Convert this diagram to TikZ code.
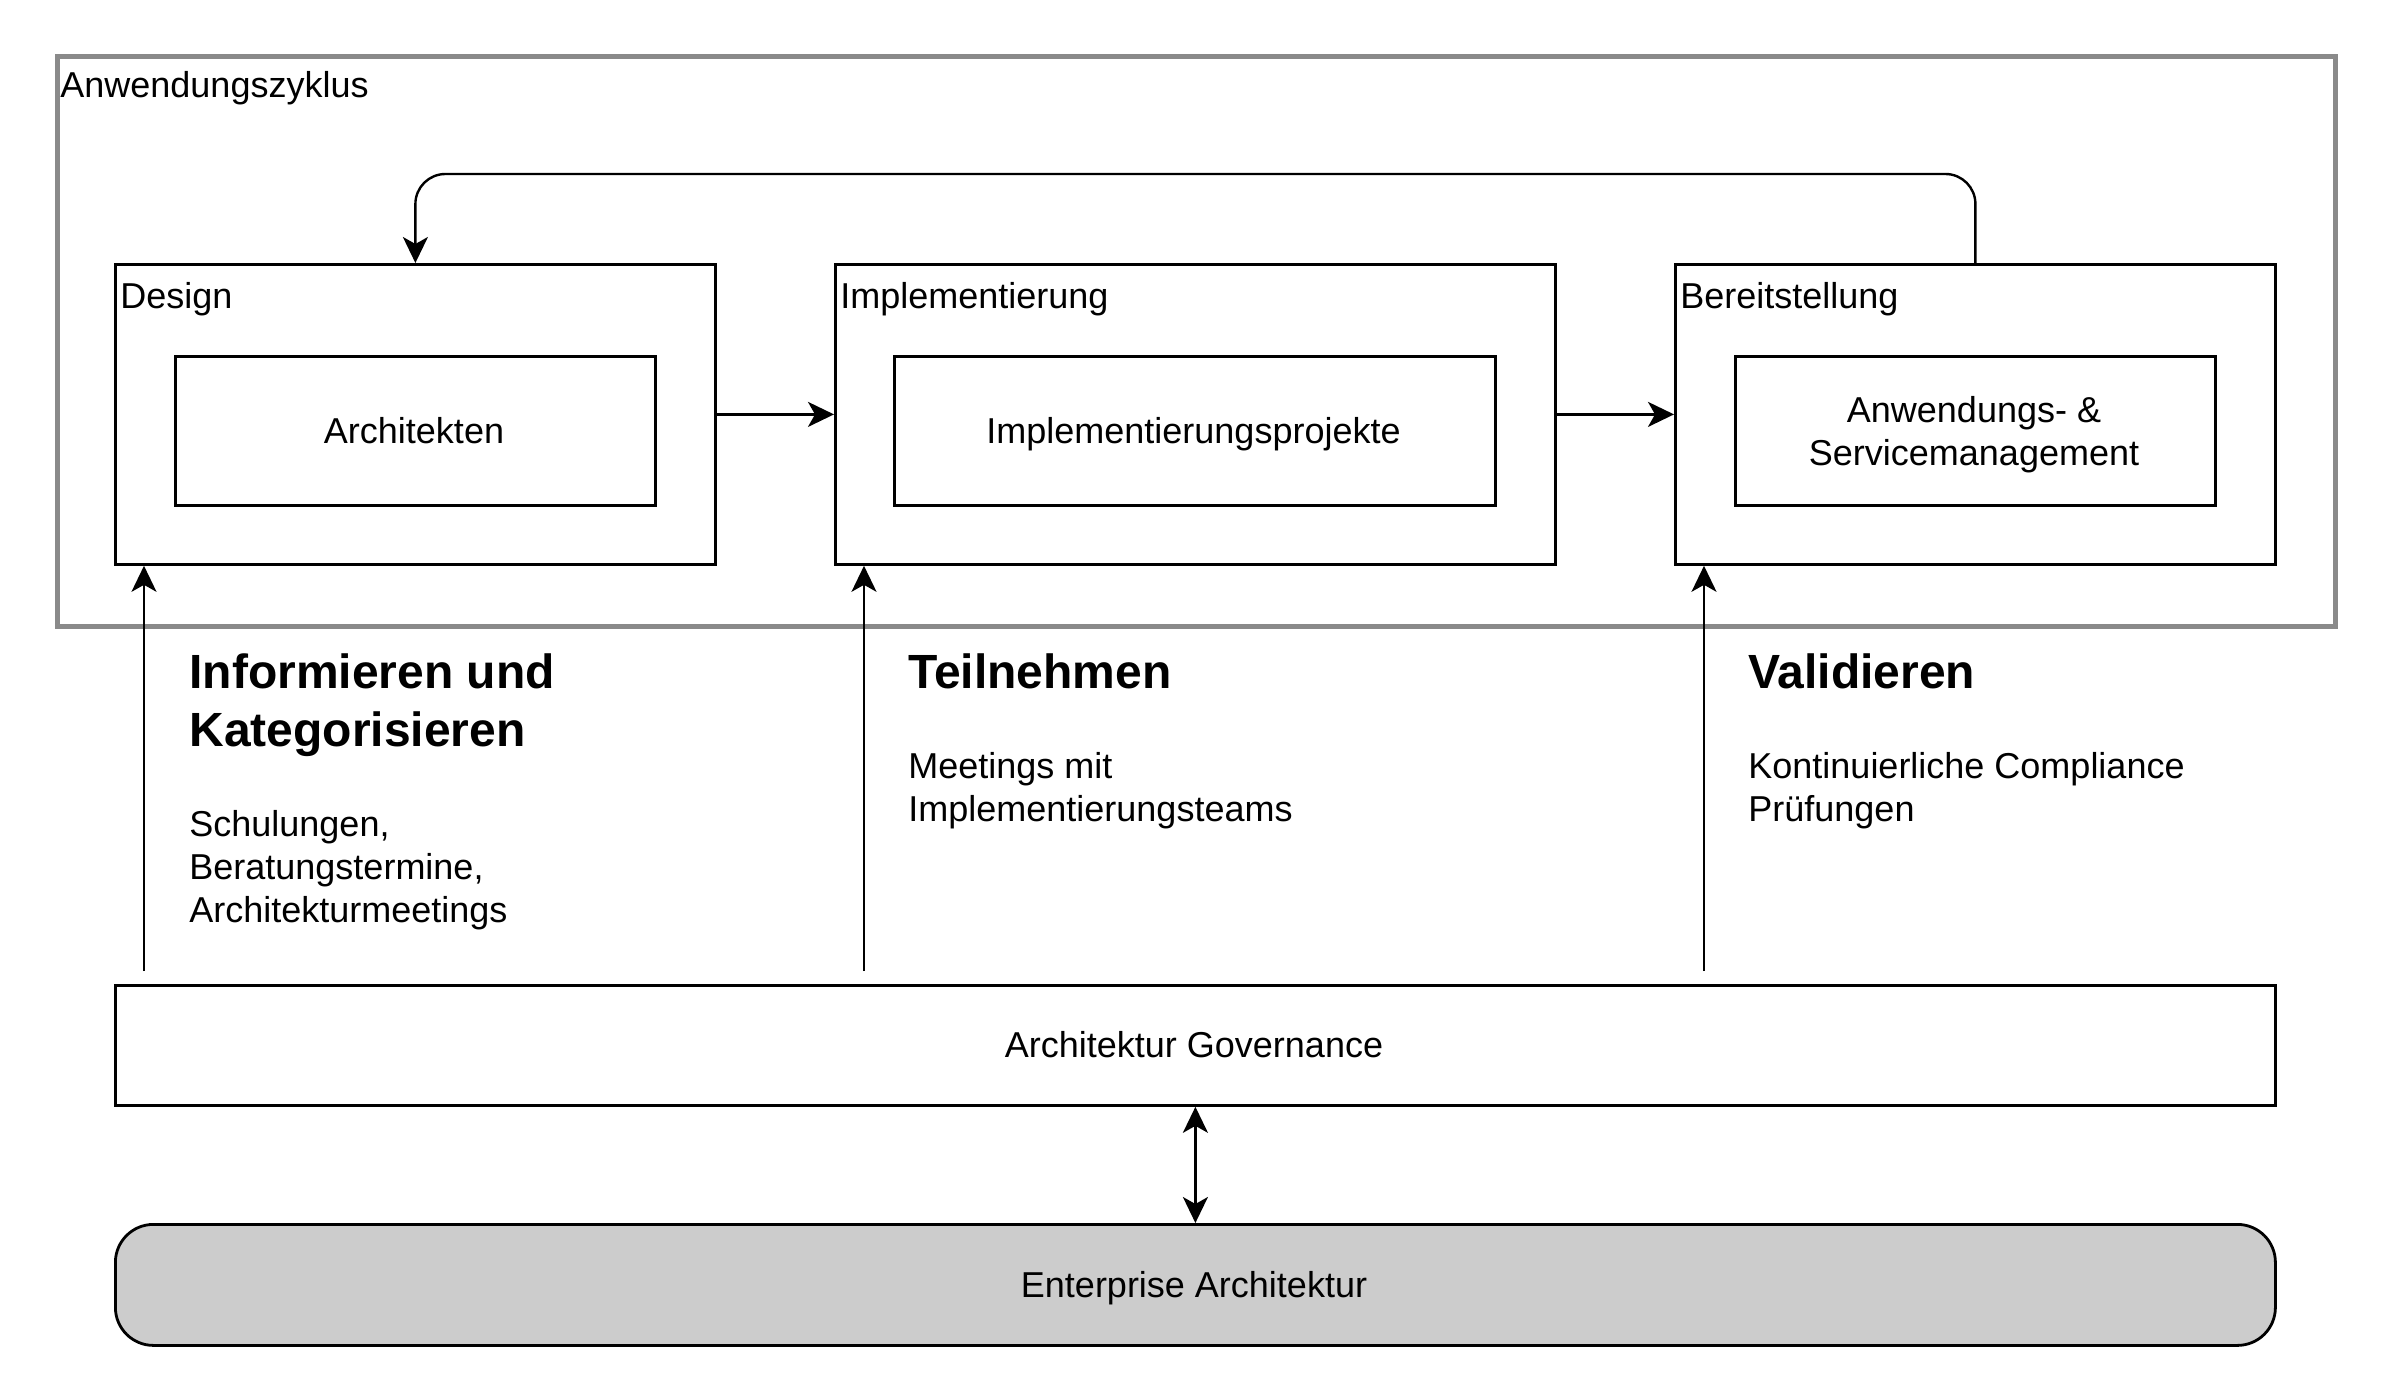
\documentclass[tikz,border=0pt]{standalone}
\usepackage{fontspec}
\setmainfont{Liberation Sans}
\usetikzlibrary{arrows.meta}
\definecolor{outergray}{HTML}{8A8A8A}
\definecolor{eagray}{HTML}{CCCCCC}
\begin{document}
\begin{tikzpicture}[x=0.5pt,y=-0.5pt,
  box/.style={draw=black, line width=1.4pt, anchor=north west, inner sep=0pt, fill=white},
  arr/.style={line width=1.2pt, -{Stealth[length=13pt,width=12.5pt,inset=3.5pt]}},
  darr/.style={line width=1.2pt, {Stealth[length=13pt,width=12.5pt,inset=3.5pt]}-{Stealth[length=13pt,width=12.5pt,inset=3.5pt]}},
  txt/.style={anchor=base west, inner sep=0pt, font=\fontsize{18pt}{21.6pt}\selectfont},
  ctxt/.style={txt, anchor=base},
  head/.style={anchor=base west, inner sep=0pt, font=\fontsize{24pt}{28.8pt}\selectfont\bfseries},
]
\useasboundingbox (0,0) rectangle (2386,1396);

% outer container
\node[draw=outergray, line width=2.5pt, anchor=north west, inner sep=0pt,
      minimum width=1139.25pt, minimum height=284.75pt] (cycle) at (54.5,54.5) {};
\node[txt] (cyclelbl) at (60,98) {Anwendungszyklus};

% phase boxes
\node[box, minimum width=300pt, minimum height=150pt] (design) at (114,263) {};
\node[box, minimum width=360pt, minimum height=150pt] (impl) at (834,263) {};
\node[box, minimum width=300pt, minimum height=150pt] (bereit) at (1674,263) {};

\node[box, minimum width=240pt, minimum height=74.5pt] (arch) at (174,355) {};
\node[box, minimum width=300.5pt, minimum height=74.5pt] (implp) at (893,355) {};
\node[box, minimum width=240pt, minimum height=74.5pt] (anw) at (1734,355) {};

\node[txt] (designlbl) at (120,308) {Design};
\node[txt] (impllbl) at (840,308) {Implementierung};
\node[txt] (bereitlbl) at (1680,308) {Bereitstellung};

\node[ctxt] (archt) at (414,443) {Architekten};
\node[ctxt] (implpt) at (1193.5,443) {Implementierungsprojekte};
\node[ctxt] (anwta) at (1974,422) {Anwendungs- \&};
\node[ctxt] (anwtb) at (1974,465) {Servicemanagement};

% governance and EA
\node[box, minimum width=1080pt, minimum height=60pt] (gov) at (114,984) {};
\node[box, fill=eagray, rounded corners=19pt, minimum width=1080pt, minimum height=60.5pt] (ea) at (114,1223) {};
\node[ctxt] (govt) at (1194,1057) {Architektur Governance};
\node[ctxt] (eat) at (1194,1297) {Enterprise Architektur};

% texts between
\node[head] (h1a) at (189,688) {Informieren und};
\node[head] (h1b) at (189,746) {Kategorisieren};
\node[txt] (t1a) at (189,836) {Schulungen,};
\node[txt] (t1b) at (189,879) {Beratungstermine,};
\node[txt] (t1c) at (189,922) {Architekturmeetings};

\node[head] (h2) at (908,688) {Teilnehmen};
\node[txt] (t2a) at (908,778) {Meetings mit};
\node[txt] (t2b) at (908,821) {Implementierungsteams};

\node[head] (h3) at (1748,688) {Validieren};
\node[txt] (t3a) at (1748,778) {Kontinuierliche Compliance};
\node[txt] (t3b) at (1748,821) {Prüfungen};

% connectors
\draw[arr] (design.east) -- (impl.west);
\draw[arr] (impl.east) -- (bereit.west);
\draw[arr, rounded corners=15pt] (bereit.north) -- ++(0,-89) -| (design.north);

\coordinate (g1) at (144,971);
\coordinate (g2) at (864,971);
\coordinate (g3) at (1704,971);
\draw[arr] (g1) -- (g1 |- design.south);
\draw[arr] (g2) -- (g2 |- impl.south);
\draw[arr] (g3) -- (g3 |- bereit.south);

\draw[darr] (gov.south) -- (ea.north);
\end{tikzpicture}
\end{document}
